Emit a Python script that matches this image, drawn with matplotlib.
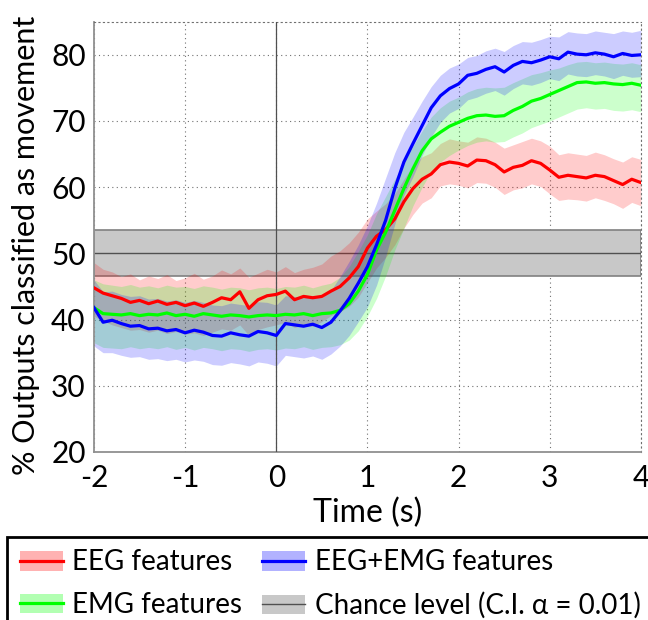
import numpy as np
import matplotlib
matplotlib.use('Agg')
import matplotlib.pyplot as plt
from matplotlib.patches import Patch, Rectangle
from matplotlib.lines import Line2D

plt.rcParams['font.family'] = ['Lato', 'DejaVu Sans']

# time axis (s), 0.1 s steps from -2 to 4
t = np.round(np.arange(-2.0, 4.0001, 0.1), 1)

eeg_mean = [44.8, 44.0, 43.6, 43.2, 42.6, 42.9, 42.4, 42.8, 42.3, 42.6,
            42.1, 42.5, 42.0, 42.6, 43.3, 43.0, 44.2, 41.7, 43.0, 43.6,
            43.8, 44.3, 43.0, 43.5, 43.3, 43.5, 44.3, 45.0, 46.3, 48.0,
            50.8, 52.6, 53.6, 55.2, 57.8, 59.8, 61.2, 62.0, 63.4, 63.8,
            63.6, 63.2, 64.1, 64.0, 63.4, 62.3, 63.0, 63.3, 64.0, 63.6,
            62.6, 61.5, 61.8, 61.6, 61.4, 61.8, 61.6, 61.0, 60.4, 61.2, 60.7]
eeg_upper = [48.6, 47.6, 47.2, 46.5, 46.9, 46.0, 46.6, 46.2, 46.8, 45.9,
             46.3, 47.0, 46.1, 46.6, 47.5, 46.9, 47.8, 46.4, 47.0, 47.6,
             47.2, 48.0, 47.1, 47.6, 47.9, 48.4, 49.6, 50.4, 51.6, 53.2,
             55.2, 56.4, 57.5, 59.0, 61.2, 63.3, 64.6, 65.2, 66.6, 67.3,
             67.0, 66.8, 67.6, 67.4, 66.8, 65.9, 66.4, 66.9, 67.4, 67.0,
             66.2, 64.9, 65.2, 65.0, 64.8, 65.3, 64.9, 64.3, 63.8, 64.6, 64.2]
eeg_lower = [40.5, 39.8, 39.2, 38.8, 38.4, 38.5, 38.1, 38.4, 37.9, 38.2,
             37.8, 38.0, 37.6, 38.1, 38.6, 38.4, 39.2, 37.6, 38.5, 38.9,
             39.2, 39.6, 38.8, 39.2, 39.0, 39.7, 40.6, 41.2, 42.0, 43.4,
             45.6, 47.8, 49.4, 51.3, 53.8, 55.9, 57.6, 58.4, 60.2, 60.5,
             60.3, 59.9, 60.7, 60.6, 60.0, 58.9, 59.6, 59.9, 60.5, 60.1,
             59.0, 58.0, 58.2, 58.1, 57.9, 58.4, 58.0, 57.5, 56.8, 57.7, 57.2]

emg_mean = [41.8, 40.9, 40.8, 40.7, 40.9, 40.6, 40.8, 40.7, 41.0, 40.6,
            40.8, 40.5, 40.9, 40.7, 40.5, 40.7, 40.6, 40.4, 40.6, 40.7,
            40.6, 40.8, 40.7, 40.9, 40.6, 40.9, 41.0, 41.4, 42.4, 44.3,
            46.8, 50.5, 53.2, 56.5, 59.8, 62.8, 65.5, 67.3, 68.3, 69.2,
            69.8, 70.4, 70.8, 70.9, 70.7, 70.8, 71.6, 72.2, 73.0, 73.4,
            74.0, 74.6, 75.2, 75.8, 75.9, 75.7, 75.8, 75.6, 75.5, 75.7, 75.4]
emg_upper = [46.0, 45.4, 45.2, 45.0, 45.3, 44.9, 45.1, 44.8, 45.2, 44.9,
             45.0, 44.7, 45.1, 44.9, 44.6, 44.9, 44.8, 44.5, 44.8, 44.9,
             44.7, 45.0, 44.9, 45.2, 44.8, 45.2, 45.5, 46.4, 48.0, 50.3,
             52.8, 56.0, 58.6, 61.2, 63.6, 66.2, 68.5, 70.6, 72.0, 73.0,
             73.6, 74.4, 74.9, 75.1, 75.0, 75.1, 75.8, 76.4, 77.0, 77.3,
             77.7, 78.0, 78.5, 78.9, 79.0, 78.8, 78.9, 78.7, 78.6, 78.8, 78.5]
emg_lower = [36.5, 35.8, 35.7, 35.6, 35.9, 35.6, 35.8, 35.6, 35.9, 35.5,
             35.8, 35.4, 35.8, 35.6, 35.3, 35.6, 35.5, 35.2, 35.5, 35.6,
             35.4, 35.7, 35.6, 35.9, 35.5, 35.8, 35.9, 36.2, 36.9, 38.3,
             40.5, 43.2, 46.6, 50.5, 53.8, 57.2, 60.0, 62.4, 63.8, 64.8,
             65.6, 66.3, 66.8, 67.0, 66.8, 66.9, 67.6, 68.2, 69.0, 69.5,
             70.0, 70.6, 71.2, 71.8, 72.0, 71.8, 71.9, 71.6, 71.5, 71.7, 71.4]

both_mean = [41.8, 39.6, 39.9, 39.4, 39.0, 39.1, 38.6, 38.7, 38.3, 38.5,
             38.0, 38.4, 38.1, 37.6, 37.5, 38.0, 37.7, 37.5, 38.2, 38.0,
             37.6, 39.4, 39.2, 39.0, 39.3, 38.8, 39.6, 41.3, 43.2, 45.5,
             48.0, 51.3, 55.0, 59.8, 63.8, 66.6, 69.3, 72.0, 73.8, 74.9,
             75.6, 76.9, 77.2, 77.8, 78.2, 77.4, 78.4, 79.0, 78.8, 79.2,
             79.7, 79.4, 80.4, 80.1, 80.0, 80.3, 80.1, 79.7, 80.2, 79.9, 80.0]
both_upper = [46.0, 44.2, 44.3, 43.8, 43.5, 43.6, 43.1, 43.2, 42.8, 43.0,
              42.6, 42.9, 42.6, 42.2, 42.1, 42.5, 42.3, 42.1, 42.7, 42.6,
              42.2, 43.6, 43.5, 43.3, 43.6, 43.3, 44.4, 46.5, 48.8, 51.3,
              54.2, 57.6, 61.4, 65.2, 68.3, 70.6, 73.0, 75.2, 76.9, 78.0,
              78.6, 79.6, 79.9, 80.6, 81.0, 80.5, 81.4, 82.0, 81.9, 82.3,
              82.8, 82.7, 83.5, 83.3, 83.2, 83.6, 83.4, 83.2, 83.6, 83.4, 83.7]
both_lower = [36.0, 35.0, 35.0, 34.6, 34.3, 34.4, 34.0, 34.1, 33.8, 34.0,
              33.6, 33.9, 33.7, 33.2, 33.1, 33.5, 33.3, 33.0, 33.6, 33.4,
              33.0, 34.6, 34.4, 34.2, 34.5, 34.0, 34.8, 36.0, 37.6, 39.7,
              41.9, 45.2, 49.5, 54.4, 58.8, 61.6, 64.8, 67.6, 69.8, 71.2,
              71.9, 73.2, 73.6, 74.2, 74.6, 73.9, 74.9, 75.6, 75.4, 75.8,
              76.4, 76.1, 77.1, 76.8, 76.7, 77.0, 76.8, 76.4, 76.9, 76.6, 76.7]

chance_level = 50.0
chance_low, chance_high = 46.6, 53.5

x_ticks = [-2, -1, 0, 1, 2, 3, 4]
y_ticks = [20, 30, 40, 50, 60, 70, 80]

fig = plt.figure(figsize=(6.48, 6.2), dpi=100)
ax = fig.add_axes([0.145, 0.271, 0.844, 0.694])

# chance band behind everything
ax.axhspan(chance_low, chance_high, facecolor='#c8c8c8', edgecolor='#808080',
           linewidth=1.2, zorder=1)
ax.axhline(chance_level, color='#505050', linewidth=1.0, zorder=1.5)

series = [
    (eeg_mean, eeg_lower, eeg_upper, '#ff0000'),
    (emg_mean, emg_lower, emg_upper, '#00ff00'),
    (both_mean, both_lower, both_upper, '#0000ff'),
]
for mean, lo, hi, c in series:
    ax.fill_between(t, lo, hi, color=c, alpha=0.2, linewidth=0, zorder=2)

ax.axvline(0, color='#505050', linewidth=0.9, zorder=3)

for mean, lo, hi, c in series:
    ax.plot(t, mean, color=c, linewidth=2.3, zorder=4)

ax.set_xlim(-2, 4)
ax.set_ylim(20, 85)
ax.set_xticks(x_ticks)
ax.set_yticks(y_ticks)
ax.set_xticklabels([str(v) for v in x_ticks])
ax.tick_params(length=0, labelsize=21.5)
ax.tick_params(axis='x', pad=9)
ax.tick_params(axis='y', pad=6)
ax.grid(True, linestyle=(0, (1, 3)), color='#707070', linewidth=0.8)
ax.set_axisbelow(True)

for side in ['left', 'bottom']:
    ax.spines[side].set_color('#909090')
    ax.spines[side].set_linewidth(1.3)
for side in ['top', 'right']:
    ax.spines[side].set_color('#707070')
    ax.spines[side].set_linewidth(0.8)
    ax.spines[side].set_linestyle((0, (1, 3)))

ax.set_xlabel('Time (s)', fontsize=23, labelpad=4)
ax.set_ylabel('% Outputs classified as movement', fontsize=22)
ax.yaxis.set_label_coords(-0.098, 0.48)

# legend: shaded patch + line
def handle(c, lc, a=0.3):
    return (Patch(facecolor=c, alpha=a, edgecolor='none'),
            Line2D([], [], color=lc, linewidth=2.3))

handles = [handle('#ff0000', '#ff0000'), handle('#00ff00', '#00ff00'),
           handle('#0000ff', '#0000ff'), (Patch(facecolor='#c8c8c8', edgecolor='none'),
                                          Line2D([], [], color='#505050', linewidth=1.0))]
labels = ['EEG features', 'EMG features', 'EEG+EMG features',
          'Chance level (C.I. \u03b1 = 0.01)']
leg = fig.legend(handles, labels, ncol=2, loc='upper left',
                 bbox_to_anchor=(0.011, 1 - 537 / 620), fontsize=20,
                 frameon=False, borderpad=0.45,
                 handlelength=1.55, handleheight=0.7, handletextpad=0.35,
                 columnspacing=0.7, labelspacing=0.6, borderaxespad=0)

# legend box runs past the right and bottom edges of the figure
fig.patches.append(Rectangle((0.011, -0.05), 1.1, 1 - 537 / 620 + 0.05,
                             transform=fig.transFigure, fill=False,
                             edgecolor='black', linewidth=2.0))

fig.savefig('out.png', dpi=100)
